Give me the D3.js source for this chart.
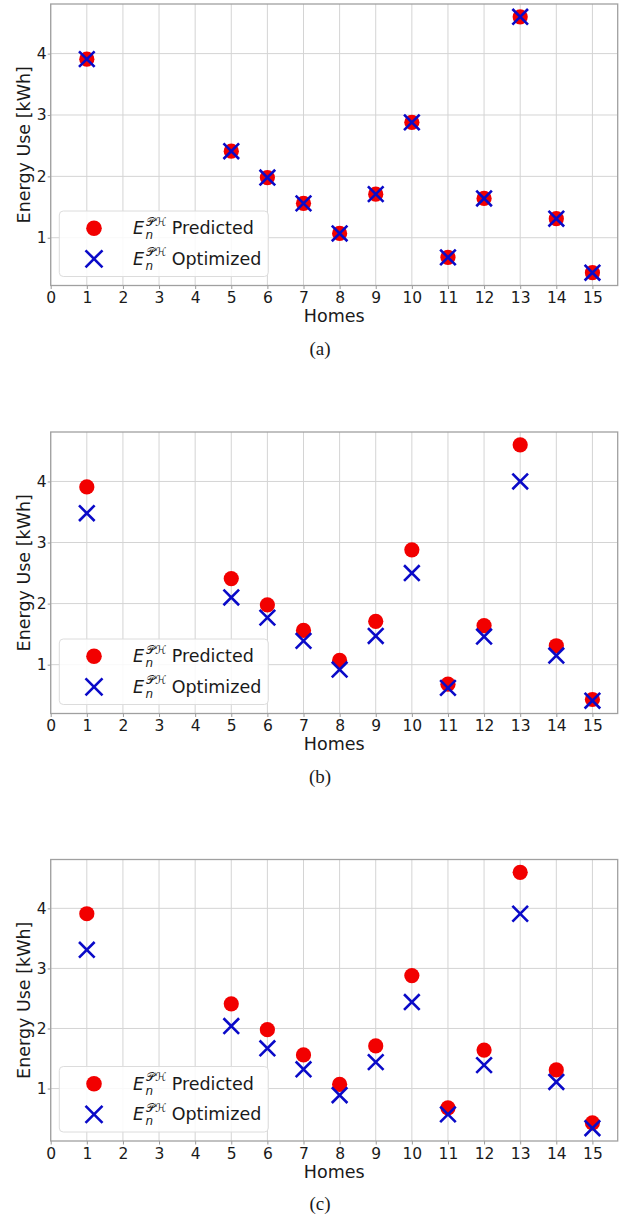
<!DOCTYPE html>
<html><head><meta charset="utf-8">
<script src="https://cdn.jsdelivr.net/npm/d3@7"></script>
<style>body{margin:0;background:#fff;} svg{display:block;}</style>
</head><body>
<script>
const homes = [1,5,6,7,8,9,10,11,12,13,14,15];
const predicted = [3.91,2.41,1.98,1.56,1.07,1.71,2.88,0.68,1.64,4.60,1.31,0.43];
const optimizedA = [3.91,2.41,1.98,1.56,1.07,1.71,2.88,0.68,1.64,4.60,1.31,0.43];
const optimizedB = [3.48,2.10,1.77,1.39,0.92,1.47,2.50,0.62,1.46,4.00,1.15,0.41];
const optimizedC = [3.31,2.04,1.67,1.32,0.89,1.44,2.44,0.57,1.39,3.91,1.11,0.34];
const xTicks = [0,1,2,3,4,5,6,7,8,9,10,11,12,13,14,15];
const yTicks = [1,2,3,4];
const captions = ["(a)","(b)","(c)"];
const legendLabels = ["Predicted","Optimized"];
const xLabel = "Homes";
const yLabel = "Energy Use [kWh]";

const W = 636, H = 1218;
const svg = d3.select("body").append("svg").attr("width", W).attr("height", H);
const left = 50.7, right = 617.7, plotH = 281.5;
const tops = [4, 432, 859.5];
const panels = [optimizedA, optimizedB, optimizedC];
const RED = "#f20000", BLUE = "#0a0ac8", TXT = "#1a1a1a";
const x = d3.scaleLinear().domain([0, 15.7]).range([left, right]);

function xMark(sel, s, w){
  sel.append("path").attr("d", `M${-s},${-s}L${s},${s}M${-s},${s}L${s},${-s}`)
     .attr("stroke", BLUE).attr("stroke-width", w).attr("fill","none");
}

panels.forEach((opt, i) => {
  const top = tops[i], bottom = top + plotH;
  const all = predicted.concat(opt);
  const mn = d3.min(all), mx = d3.max(all), pad = 0.05*(mx-mn);
  const y = d3.scaleLinear().domain([mn-pad, mx+pad]).range([bottom, top]);
  const g = svg.append("g");

  // grid
  g.append("g").selectAll("line").data(xTicks).join("line")
    .attr("x1", d=>x(d)).attr("x2", d=>x(d)).attr("y1", top).attr("y2", bottom)
    .attr("stroke", "#d4d4d4").attr("stroke-width", 1);
  g.append("g").selectAll("line").data(yTicks).join("line")
    .attr("x1", left).attr("x2", right).attr("y1", d=>y(d)).attr("y2", d=>y(d))
    .attr("stroke", "#d4d4d4").attr("stroke-width", 1);

  // axes
  const xa = g.append("g").attr("transform", `translate(0,${bottom})`)
    .call(d3.axisBottom(x).tickValues(xTicks).tickSize(3.5).tickPadding(3));
  const ya = g.append("g").attr("transform", `translate(${left},0)`)
    .call(d3.axisLeft(y).tickValues(yTicks).tickSize(3).tickPadding(1).tickFormat(d3.format("d")));
  [xa, ya].forEach(a => {
    a.select(".domain").remove();
    a.selectAll(".tick line").attr("stroke", "#9a9a9a");
    a.selectAll(".tick text").attr("font-family", "DejaVu Sans").attr("font-size", 15.5).attr("fill", TXT);
  });

  // frame
  g.append("rect").attr("x", left).attr("y", top).attr("width", right-left).attr("height", plotH)
    .attr("fill", "none").attr("stroke", "#a0a0a0").attr("stroke-width", 1.3);

  // points
  g.append("g").selectAll("circle").data(homes).join("circle")
    .attr("cx", d=>x(d)).attr("cy", (d,k)=>y(predicted[k])).attr("r", 7.6).attr("fill", RED);
  g.append("g").selectAll("g").data(homes).join("g")
    .attr("transform", (d,k)=>`translate(${x(d)},${y(opt[k])})`)
    .each(function(){ xMark(d3.select(this), 7.8, 2.6); });

  // labels
  g.append("text").attr("x", (left+right)/2).attr("y", bottom+36.5)
    .attr("text-anchor","middle").attr("font-family","DejaVu Sans").attr("font-size",17.5).attr("fill",TXT).text(xLabel);
  g.append("text").attr("transform", `translate(29.5,${(top+bottom)/2}) rotate(-90)`)
    .attr("text-anchor","middle").attr("font-family","DejaVu Sans").attr("font-size",17.5).attr("fill",TXT).text(yLabel);
  g.append("text").attr("x", 320).attr("y", bottom+69)
    .attr("text-anchor","middle").attr("font-family","Liberation Serif, Times New Roman, serif").attr("font-size",19).attr("fill",TXT).text(captions[i]);

  // legend
  const lx = left+8.6, ly = bottom-74.5;
  const lg = g.append("g");
  lg.append("rect").attr("x", lx).attr("y", ly).attr("width", 209).attr("height", 65.5).attr("rx", 4)
    .attr("fill", "rgba(255,255,255,0.85)").attr("stroke", "#dcdcdc").attr("stroke-width", 1);
  const rows = [bottom-57.3, bottom-26.7];
  lg.append("circle").attr("cx", 94).attr("cy", rows[0]).attr("r", 7.8).attr("fill", RED);
  xMark(lg.append("g").attr("transform", `translate(94,${rows[1]})`), 8.5, 2.6);
  legendLabels.forEach((lab, k) => {
    const base = rows[k] + 6;
    const t = lg.append("text").attr("x", 133).attr("y", base)
      .attr("font-family","DejaVu Sans").attr("font-size",17.5).attr("fill",TXT);
    t.append("tspan").attr("font-style","italic").text("E");
    t.append("tspan").attr("x", 146).attr("y", base-8.5).attr("font-size",11.5).text("𝒫ℋ");
    t.append("tspan").attr("x", 145.5).attr("y", base+5).attr("font-size",12).attr("font-style","italic").text("n");
    t.append("tspan").attr("x", 171.7).attr("y", base).text(lab);
  });
});
</script>
</body></html>
